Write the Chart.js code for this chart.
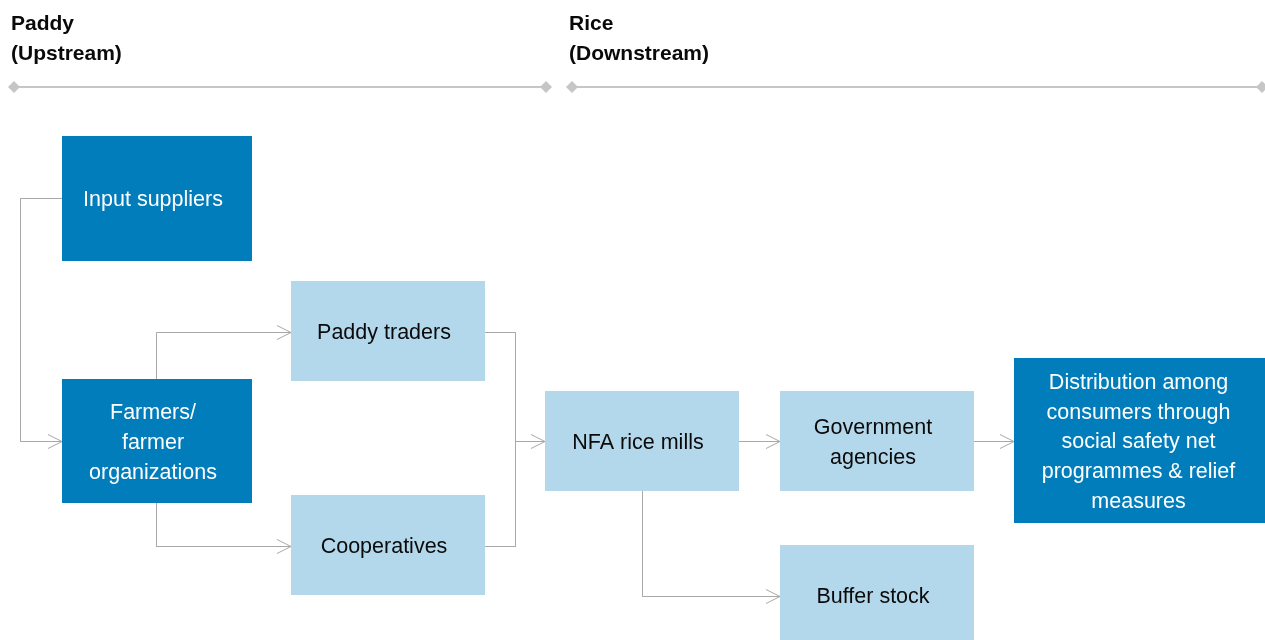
<!DOCTYPE html>
<html>
<head>
<meta charset="utf-8">
<script src="https://cdn.jsdelivr.net/npm/chart.js@4/dist/chart.umd.min.js"></script>
<style>
  html,body{margin:0;padding:0;background:#fff;}
  #wrap{width:1265px;height:640px;position:relative;}
</style>
</head>
<body>
<div id="wrap"><canvas id="flow"></canvas></div>
<script>
// ===================== DATA =====================
// stage headers
const stageTitles=[['Paddy','(Upstream)'],['Rice','(Downstream)']];
const stageX=[11,569];
const stageLineFrom=[14,572];
const stageLineTo=[546,1262];

// boxes (chart units = px of the 1265x640 plate, y grows downward)
const boxLabels=[
  ['Input suppliers'],
  ['Farmers/','farmer','organizations'],
  ['Paddy traders'],
  ['Cooperatives'],
  ['NFA rice mills'],
  ['Government','agencies'],
  ['Buffer stock'],
  ['Distribution among','consumers through','social safety net','programmes & relief','measures']
];
const boxLeft  =[62, 62, 291,291,545,780,780,1014];
const boxRight =[252,252,485,485,739,974,974,1265];
const boxTop   =[136,379,281,495,391,391,545,358];
const boxBottom=[261,503,381,595,491,491,640,523];
const boxDark  =[true,true,false,false,false,false,false,true];

// connectors: polyline points, arrow at the last point when flagged
const links=[
  {pts:[[62,198.5],[20.5,198.5],[20.5,441.5],[62,441.5]],arrow:true},
  {pts:[[156.5,379],[156.5,332.5],[291,332.5]],arrow:true},
  {pts:[[156.5,503],[156.5,546.5],[291,546.5]],arrow:true},
  {pts:[[485,332.5],[515.5,332.5],[515.5,546.5],[485,546.5]],arrow:false},
  {pts:[[515.5,441.5],[545,441.5]],arrow:true},
  {pts:[[739,441.5],[780,441.5]],arrow:true},
  {pts:[[642.5,491],[642.5,596.5],[780,596.5]],arrow:true},
  {pts:[[974,441.5],[1014,441.5]],arrow:true}
];

const DARK='#007dba', LIGHT='#b4d8eb', LINK='#a8a8a8', RULE='#c6c6c6';
const FONT='"Liberation Sans", Arial, sans-serif';

// ===================== DATASETS =====================
const datasets=[];
stageLineFrom.forEach((x0,i)=>{
  datasets.push({data:[{x:x0,y:87},{x:stageLineTo[i],y:87}],showLine:true,
    borderColor:RULE,borderWidth:2,pointStyle:'rectRot',pointRadius:6,
    pointBackgroundColor:RULE,pointBorderColor:RULE,pointBorderWidth:0,order:2});
});
links.forEach(l=>{
  datasets.push({data:l.pts.map(p=>({x:p[0],y:p[1]})),showLine:true,
    borderColor:LINK,borderWidth:1,pointRadius:0,arrow:l.arrow,isLink:true,order:1});
});

// ===================== PLUGIN =====================
const flowPlugin={
  id:'flow',
  beforeDatasetsDraw(chart){
    const {ctx,scales:{x,y}}=chart;
    ctx.save();
    boxLabels.forEach((lines,i)=>{
      const l=x.getPixelForValue(boxLeft[i]),r=x.getPixelForValue(boxRight[i]);
      const t=y.getPixelForValue(boxTop[i]),b=y.getPixelForValue(boxBottom[i]);
      ctx.fillStyle=boxDark[i]?DARK:LIGHT;
      ctx.fillRect(l,t,r-l,b-t);
    });
    ctx.restore();
  },
  afterDatasetsDraw(chart){
    const {ctx,scales:{x,y}}=chart;
    ctx.save();
    // arrow heads
    chart.data.datasets.forEach(ds=>{
      if(!ds.isLink||!ds.arrow) return;
      const n=ds.data.length;
      const p=ds.data[n-1],q=ds.data[n-2];
      const px=x.getPixelForValue(p.x),py=y.getPixelForValue(p.y);
      const qx=x.getPixelForValue(q.x),qy=y.getPixelForValue(q.y);
      const a=Math.atan2(py-qy,px-qx);
      ctx.strokeStyle=LINK;ctx.lineWidth=1;
      ctx.beginPath();
      ctx.moveTo(px-14*Math.cos(a)+7*Math.sin(a),py-14*Math.sin(a)-7*Math.cos(a));
      ctx.lineTo(px,py);
      ctx.lineTo(px-14*Math.cos(a)-7*Math.sin(a),py-14*Math.sin(a)+7*Math.cos(a));
      ctx.stroke();
    });
    // box text (sits a touch left of centre in the original)
    ctx.font='21.5px '+FONT;
    ctx.textAlign='center';ctx.textBaseline='middle';
    boxLabels.forEach((lines,i)=>{
      const cx=x.getPixelForValue((boxLeft[i]+boxRight[i])/2)-(i===7?1:4);
      let cy=y.getPixelForValue((boxTop[i]+boxBottom[i])/2)+2;
      if(i===6) cy=y.getPixelForValue(596.5)+1;
      ctx.fillStyle=boxDark[i]?'#ffffff':'#0a0a0a';
      lines.forEach((s,k)=>ctx.fillText(s,cx,cy+(k-(lines.length-1)/2)*29.8));
    });
    // stage headers
    ctx.font='bold 21px '+FONT;
    ctx.textAlign='left';ctx.fillStyle='#0a0a0a';
    stageTitles.forEach((lines,i)=>{
      lines.forEach((s,k)=>ctx.fillText(s,x.getPixelForValue(stageX[i]),y.getPixelForValue(24+k*30)));
    });
    ctx.restore();
  }
};

new Chart(document.getElementById('flow').getContext('2d'),{
  type:'scatter',
  data:{datasets},
  options:{responsive:true,maintainAspectRatio:false,animation:false,
    layout:{padding:0,autoPadding:false},
    plugins:{legend:{display:false},tooltip:{enabled:false}},
    scales:{x:{type:'linear',min:0,max:1265,display:false},
            y:{type:'linear',min:0,max:640,reverse:true,display:false}}},
  plugins:[flowPlugin]
});
</script>
</body>
</html>
